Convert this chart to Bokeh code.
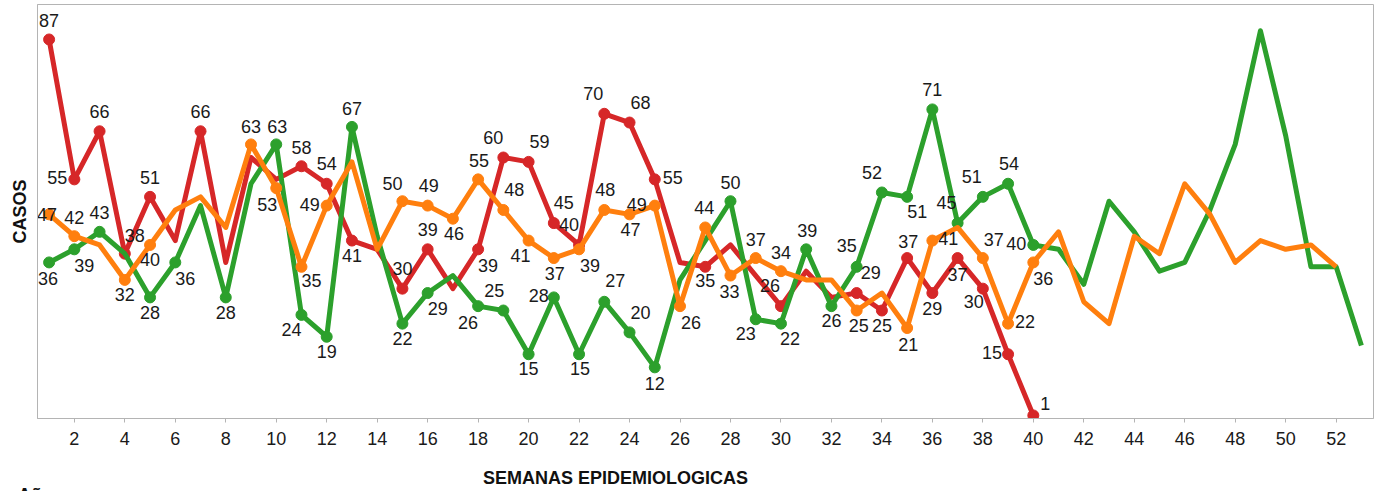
from bokeh.plotting import figure
from bokeh.models import ColumnDataSource, Range1d, FixedTicker, Div
from bokeh.layouts import column
from bokeh.core.properties import value
from bokeh.embed import file_html
from bokeh.resources import INLINE

# ---- data ----
weeks_red = list(range(1, 41))
red = [87, 55, 66, 38, 51, 41, 66, 36, 60, 55, 58, 54, 41, 39, 30, 39, 30, 39, 60, 59,
       45, 40, 70, 68, 55, 36, 35, 40, 33, 26, 34, 28, 29, 25, 37, 29, 37, 30, 15, 1]

weeks_green = list(range(1, 54))
green = [36, 39, 43, 38, 28, 36, 49, 28, 54, 63, 24, 19, 67, 42, 22, 29, 33, 26, 25, 15,
         28, 15, 27, 20, 12, 32, 41, 50, 23, 22, 39, 26, 35, 52, 51, 71, 45, 51, 54, 40,
         39, 31, 50, 43, 34, 36, 48, 63, 89, 65, 35, 35, 17]

weeks_orange = list(range(1, 53))
orange = [47, 42, 40, 32, 40, 48, 51, 44, 63, 53, 35, 49, 59, 39, 50, 49, 46, 55, 48, 41,
          37, 39, 48, 47, 49, 26, 44, 33, 37, 34, 32, 32, 25, 29, 21, 41, 44, 37, 22, 36,
          43, 27, 22, 42, 38, 54, 47, 36, 41, 39, 40, 35]

x_ticks = list(range(2, 54, 2))

# ---- label placement (style): week -> (dx, dy) in pixels ----
red_lbl = {1: (0, -19), 2: (-17, -2), 3: (0, -20), 4: (10, -18), 5: (0, -19), 7: (0, -20),
           11: (0, -19), 12: (0, -20), 13: (0, 15), 15: (0, -20), 16: (0, -20), 18: (10, 16),
           19: (-10, -20), 20: (11, -20), 21: (10, -21), 22: (-10, -20), 23: (-11, -20),
           24: (11, -20), 25: (18, -2), 27: (0, 14), 30: (-11, -21), 33: (14, -21),
           34: (0, 15), 35: (1, -17), 36: (0, 15), 37: (0, 16), 38: (-9, 13), 39: (-16, -2),
           40: (12, -12)}
green_lbl = {1: (-1, 16), 2: (10, 16), 3: (0, -19), 5: (0, 15), 6: (10, 16), 8: (0, 15),
             10: (1, -18), 11: (-10, 15), 12: (0, 15), 13: (0, -18), 15: (0, 15), 16: (10, 15),
             18: (-10, 16), 19: (-9, -20), 20: (0, 14), 21: (-15, -2), 22: (1, 14),
             23: (11, -21), 24: (11, -20), 25: (0, 16), 28: (0, -19), 29: (-10, 14),
             30: (9, 15), 31: (1, -19), 32: (0, 14), 33: (-10, -21), 34: (-10, -20),
             35: (10, 15), 36: (0, -20), 37: (-11, -21), 38: (-11, -20), 39: (1, -20),
             40: (-17, -1)}
orange_lbl = {1: (-2, 0), 2: (0, -19), 4: (0, 15), 5: (0, 15), 9: (0, -18), 10: (-9, 16),
              11: (10, 14), 12: (-17, -1), 15: (-10, -18), 16: (1, -20), 17: (1, 15),
              18: (1, -19), 19: (11, -20), 20: (-8, 15), 21: (1, 15), 22: (11, 16),
              23: (1, -20), 24: (1, 15), 25: (-18, -1), 26: (11, 16), 27: (-1, -20),
              28: (-1, 16), 29: (0, -19), 30: (0, -19), 33: (2, 15), 35: (1, 16),
              36: (16, -2), 38: (11, -19), 39: (17, -2), 40: (10, 16)}

RED, GREEN, ORANGE = "#d62728", "#2ca02c", "#ff7f0e"
FONT = "Liberation Sans"
GRAY = "#b4b4b4"

p = figure(width=1380, height=460, output_backend="svg", toolbar_location=None,
           x_range=Range1d(0.54, 53.48), y_range=Range1d(0.3, 95.0),
           min_border_left=37, min_border_right=7, min_border_top=4, min_border_bottom=42)
p.background_fill_color = "white"
p.border_fill_color = "white"
p.outline_line_color = GRAY
p.outline_line_width = 1
p.xgrid.visible = False
p.ygrid.visible = False

p.yaxis.ticker = FixedTicker(ticks=[])
p.yaxis.axis_label = "CASOS"
p.yaxis.axis_label_text_font = FONT
p.yaxis.axis_label_text_font_size = "18px"
p.yaxis.axis_label_text_font_style = "bold"
p.yaxis.axis_label_text_color = "#111111"
p.yaxis.axis_label_standoff = 8
p.yaxis.major_label_standoff = 0
p.yaxis.major_tick_line_color = None
p.yaxis.major_tick_out = 0
p.yaxis.minor_tick_line_color = None
p.yaxis.axis_line_color = GRAY

p.xaxis.ticker = FixedTicker(ticks=x_ticks)
p.xaxis.axis_line_color = GRAY
p.xaxis.major_tick_line_color = GRAY
p.xaxis.major_tick_out = 4
p.xaxis.major_tick_in = 0
p.xaxis.minor_tick_line_color = None
p.xaxis.major_label_text_font = FONT
p.xaxis.major_label_text_font_size = "18px"
p.xaxis.major_label_text_color = "#1a1a1a"
p.xaxis.major_label_standoff = 9


def draw(weeks, vals, color, lbl):
    p.line(weeks, vals, line_color=color, line_width=5, line_join="round")
    wk = [w for w in weeks if w in lbl]
    vv = [vals[weeks.index(w)] for w in wk]
    src = ColumnDataSource(dict(x=wk, y=vv, t=[str(v) for v in vv],
                                dx=[lbl[w][0] for w in wk], dy=[lbl[w][1] for w in wk]))
    p.scatter("x", "y", source=src, size=11, fill_color=color, line_color=color)
    return src


srcs = [draw(weeks_red, red, RED, red_lbl),
        draw(weeks_green, green, GREEN, green_lbl),
        draw(weeks_orange, orange, ORANGE, orange_lbl)]

for s in srcs:
    p.text("x", "y", text="t", source=s, x_offset="dx", y_offset="dy",
           text_align="center", text_baseline="middle",
           text_font=value(FONT), text_font_size="18px", text_color="#1a1a1a")

box = ("position:relative;width:1380px;height:31px;overflow:hidden;"
       "font-family:'Liberation Sans';font-weight:bold;font-size:18px;color:#111111;")
item = "position:absolute;line-height:20px;white-space:nowrap;"
footer = Div(width=1380, height=31, margin=0,
             text=(f'<div style="{box}">'
                   f'<div style="{item}left:483px;top:8px;">SEMANAS EPIDEMIOLOGICAS</div>'
                   f'<div style="{item}left:18px;top:25px;">Año</div>'
                   '</div>'))

open("out.html", "w").write(file_html(column(p, footer, spacing=0), INLINE))
